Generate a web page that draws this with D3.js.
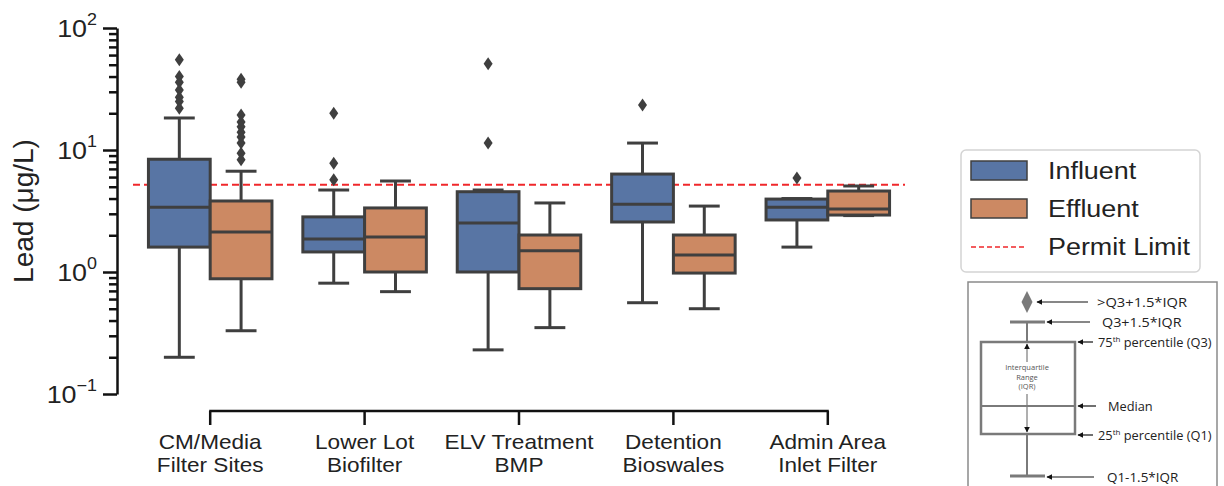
<!DOCTYPE html>
<html>
<head>
<meta charset="utf-8">
<script src="https://cdn.jsdelivr.net/npm/d3@7"></script>
<style>
body { margin: 0; background: #fff; }
text { font-family: "Liberation Sans", Arial, sans-serif; fill: #222; }
</style>
</head>
<body>
<div id="chart"></div>
<script>
const categories = ["CM/Media|Filter Sites", "Lower Lot|Biofilter", "ELV Treatment|BMP", "Detention|Bioswales", "Admin Area|Inlet Filter"];
const series = ["Influent", "Effluent"];
// [lower whisker, Q1, median, Q3, upper whisker]
const influent = [[0.2, 1.6, 3.4, 8.4, 18.3], [0.81, 1.46, 1.86, 2.83, 4.7], [0.23, 1.0, 2.52, 4.55, 4.7], [0.56, 2.57, 3.6, 6.35, 11.4], [1.6, 2.67, 3.4, 3.96, 4.0]];
const effluent = [[0.33, 0.88, 2.13, 3.82, 6.7], [0.69, 1.0, 1.94, 3.35, 5.57], [0.35, 0.73, 1.49, 2.01, 3.68], [0.5, 0.98, 1.38, 2.01, 3.47], [2.9, 2.93, 3.28, 4.61, 5.07]];
const influentOutliers = [[55, 40, 36, 31, 27, 25, 22], [20, 7.8, 5.7], [51, 11.4], [23.4], [5.9]];
const effluentOutliers = [[38, 36, 19.4, 17, 15.5, 14, 12.8, 11.4, 9.4, 8.3], [], [], [], []];
const permitLimit = 5.2;
const yTicks = [0.1, 1, 10, 100];
const yTickExp = ["\u22121", "0", "1", "2"];
const legendLabels = ["Influent", "Effluent", "Permit Limit"];
const guideLabels = [">Q3+1.5*IQR", "Q3+1.5*IQR", "75|th| percentile (Q3)", "Median", "25|th| percentile (Q1)", "Q1-1.5*IQR"];

const width = 1224, height = 486;
const colors = {Influent: "#5875a4", Effluent: "#cc8963"};
const edge = "#3f3f3f";

const svg = d3.select('#chart').append('svg')
  .attr('width', width).attr('height', height)
  .attr('viewBox', `0 0 ${width} ${height}`);

// text that is a bit wider than the font, like the source picture
function wideText(parent, x, y, sx) {
  return parent.append('text').attr('transform', `translate(${x},${y}) scale(${sx},1)`);
}

const xScale = d3.scaleBand().domain(categories).range([133, 905]);
const hueScale = d3.scaleBand().domain(series).range([0, xScale.bandwidth()]).paddingOuter(0.25);
const yScale = d3.scaleLog().domain([0.1, 100]).range([394, 28]);

// permit limit line (drawn under boxes)
svg.append('line')
  .attr('x1', xScale.range()[0]).attr('x2', xScale.range()[1])
  .attr('y1', yScale(permitLimit)).attr('y2', yScale(permitLimit))
  .attr('stroke', '#f0272b').attr('stroke-width', 2).attr('stroke-dasharray', '7,4');

const boxes = [];
categories.forEach((c, i) => {
  boxes.push({cat: c, s: 'Influent', v: influent[i], out: influentOutliers[i]});
  boxes.push({cat: c, s: 'Effluent', v: effluent[i], out: effluentOutliers[i]});
});

const g = svg.append('g').selectAll('g').data(boxes).join('g')
  .attr('transform', d => `translate(${xScale(d.cat) + hueScale(d.s)},0)`);
const bw = hueScale.bandwidth();

g.append('line').attr('x1', bw / 2).attr('x2', bw / 2)
  .attr('y1', d => yScale(d.v[0])).attr('y2', d => yScale(d.v[1]))
  .attr('stroke', edge).attr('stroke-width', 3);
g.append('line').attr('x1', bw / 2).attr('x2', bw / 2)
  .attr('y1', d => yScale(d.v[3])).attr('y2', d => yScale(d.v[4]))
  .attr('stroke', edge).attr('stroke-width', 3);
g.append('line').attr('x1', bw / 4).attr('x2', bw * 3 / 4)
  .attr('y1', d => yScale(d.v[0])).attr('y2', d => yScale(d.v[0]))
  .attr('stroke', edge).attr('stroke-width', 3);
g.append('line').attr('x1', bw / 4).attr('x2', bw * 3 / 4)
  .attr('y1', d => yScale(d.v[4])).attr('y2', d => yScale(d.v[4]))
  .attr('stroke', edge).attr('stroke-width', 3);
g.append('rect').attr('x', 0).attr('width', bw)
  .attr('y', d => yScale(d.v[3])).attr('height', d => yScale(d.v[1]) - yScale(d.v[3]))
  .attr('fill', d => colors[d.s]).attr('stroke', edge).attr('stroke-width', 3);
g.append('line').attr('x1', 0).attr('x2', bw)
  .attr('y1', d => yScale(d.v[2])).attr('y2', d => yScale(d.v[2]))
  .attr('stroke', edge).attr('stroke-width', 3);
g.selectAll('path.flier').data(d => d.out).join('path').attr('class', 'flier')
  .attr('d', v => { const y = yScale(v), x = bw / 2; return `M${x},${y - 6.5}L${x + 4.5},${y}L${x},${y + 6.5}L${x - 4.5},${y}Z`; })
  .attr('fill', edge);

// y axis
svg.append('g').attr('transform', 'translate(117,0)')
  .call(d3.axisLeft(yScale).tickValues(yTicks).tickSize(14).tickSizeOuter(0).tickFormat(''));
const minor = [];
[0.1, 1, 10].forEach(b => { for (let k = 2; k <= 9; k++) minor.push(b * k); });
svg.append('g').attr('transform', 'translate(117,0)')
  .call(d3.axisLeft(yScale).tickValues(minor).tickSize(8).tickSizeOuter(0).tickFormat(''))
  .select('.domain').remove();
svg.selectAll('.tick line, .domain').attr('stroke', '#111').attr('stroke-width', 2.5);
yTicks.forEach((t, i) => {
  const txt = wideText(svg, 97, yScale(t) + 9, 1.12).attr('text-anchor', 'end').style('font-size', '24px');
  txt.append('tspan').text('10');
  txt.append('tspan').attr('dy', -12).style('font-size', '16px').text(yTickExp[i]);
});
svg.append('text').attr('transform', `translate(33,${(yScale(0.1) + yScale(100)) / 2}) rotate(-90)`)
  .attr('text-anchor', 'middle').style('font-size', '28px').text('Lead (\u03bcg/L)');

// x axis, trimmed from first to last category
const x0 = xScale(categories[0]) + xScale.bandwidth() / 2;
const x1 = xScale(categories[categories.length - 1]) + xScale.bandwidth() / 2;
svg.append('line').attr('x1', x0 - 1).attr('x2', x1 + 1).attr('y1', 411).attr('y2', 411)
  .attr('stroke', '#111').attr('stroke-width', 2.5);
categories.forEach(c => {
  const cx = xScale(c) + xScale.bandwidth() / 2;
  svg.append('line').attr('x1', cx).attr('x2', cx).attr('y1', 411).attr('y2', 425)
    .attr('stroke', '#111').attr('stroke-width', 2.5);
  c.split('|').forEach((ln, j) => {
    wideText(svg, cx, 449 + j * 23, 1.13).attr('text-anchor', 'middle').style('font-size', '20px').text(ln);
  });
});

// legend
const lg = svg.append('g');
lg.append('rect').attr('x', 961).attr('y', 150).attr('width', 239).attr('height', 122)
  .attr('rx', 5).attr('fill', '#fff').attr('stroke', '#d4d4d4').attr('stroke-width', 1.5);
legendLabels.forEach((l, i) => {
  const cy = 171 + i * 38;
  if (i < 2) {
    lg.append('rect').attr('x', 971).attr('y', cy - 10).attr('width', 56).attr('height', 19)
      .attr('fill', colors[l]).attr('stroke', edge).attr('stroke-width', 1.5);
  } else {
    lg.append('line').attr('x1', 971).attr('x2', 1027).attr('y1', cy).attr('y2', cy)
      .attr('stroke', '#f0272b').attr('stroke-width', 1.5).attr('stroke-dasharray', '5,3');
  }
  wideText(lg, 1048, cy + 8, 1.17).style('font-size', '23px').text(l);
});

// box plot guide inset
const gd = svg.append('g');
const gray = '#7a7a7a';
gd.append('rect').attr('x', 968).attr('y', 282).attr('width', 249).attr('height', 220)
  .attr('fill', '#fff').attr('stroke', '#8a8a8a').attr('stroke-width', 1.5);
svg.append('defs').append('marker').attr('id', 'ah').attr('viewBox', '0 0 10 10')
  .attr('refX', 9).attr('refY', 5).attr('markerWidth', 5).attr('markerHeight', 5)
  .attr('orient', 'auto-start-reverse')
  .append('path').attr('d', 'M0,0L10,5L0,10Z').attr('fill', '#111');
const gx = 1027;
gd.append('path').attr('d', `M${gx},291L${gx + 5.5},302L${gx},313L${gx - 5.5},302Z`).attr('fill', gray);
gd.append('line').attr('x1', 1010).attr('x2', 1045).attr('y1', 322).attr('y2', 322).attr('stroke', gray).attr('stroke-width', 3);
gd.append('line').attr('x1', gx).attr('x2', gx).attr('y1', 322).attr('y2', 342).attr('stroke', gray).attr('stroke-width', 2);
gd.append('rect').attr('x', 981).attr('y', 342).attr('width', 94).attr('height', 92)
  .attr('fill', 'none').attr('stroke', gray).attr('stroke-width', 2.5);
gd.append('line').attr('x1', 981).attr('x2', 1075).attr('y1', 406).attr('y2', 406).attr('stroke', gray).attr('stroke-width', 2);
gd.append('line').attr('x1', gx).attr('x2', gx).attr('y1', 434).attr('y2', 476).attr('stroke', gray).attr('stroke-width', 2);
gd.append('line').attr('x1', 1010).attr('x2', 1045).attr('y1', 476).attr('y2', 476).attr('stroke', gray).attr('stroke-width', 3);
gd.append('line').attr('x1', gx).attr('x2', gx).attr('y1', 362).attr('y2', 344).attr('stroke', gray).attr('stroke-width', 1.2).attr('marker-end', 'url(#ah)');
gd.append('line').attr('x1', gx).attr('x2', gx).attr('y1', 394).attr('y2', 432).attr('stroke', gray).attr('stroke-width', 1.2).attr('marker-end', 'url(#ah)');
['Interquartile', 'Range', '(IQR)'].forEach((t, i) => {
  gd.append('text').attr('x', gx).attr('y', 370 + i * 9.5).attr('text-anchor', 'middle')
    .style('font-size', '7.5px').style('font-family', '"Open Sans", sans-serif').style('fill', '#555').text(t);
});
const guideY = [302, 322, 342, 406, 435, 477];
const arrowFrom = [1088, 1090, 1093, 1096, 1093, 1094];
const arrowTo = [1037, 1047, 1078, 1078, 1078, 1047];
const textX = [1097, 1102, 1098, 1108, 1098, 1107];
const guideSx = [1.15, 1.12, 1, 1, 1, 1.05];
guideLabels.forEach((l, i) => {
  gd.append('line').attr('x1', arrowFrom[i]).attr('x2', arrowTo[i]).attr('y1', guideY[i]).attr('y2', guideY[i])
    .attr('stroke', '#111').attr('stroke-width', 1.2).attr('marker-end', 'url(#ah)');
  const t = wideText(gd, textX[i], guideY[i] + 5, guideSx[i])
    .style('font-size', '12.8px').style('font-family', '"Open Sans", sans-serif');
  const parts = l.split('|');
  t.append('tspan').text(parts[0]);
  if (parts.length > 1) {
    t.append('tspan').attr('dy', -5).style('font-size', '8px').text(parts[1]);
    t.append('tspan').attr('dy', 5).text(parts[2]);
  }
});
</script>
</body>
</html>
